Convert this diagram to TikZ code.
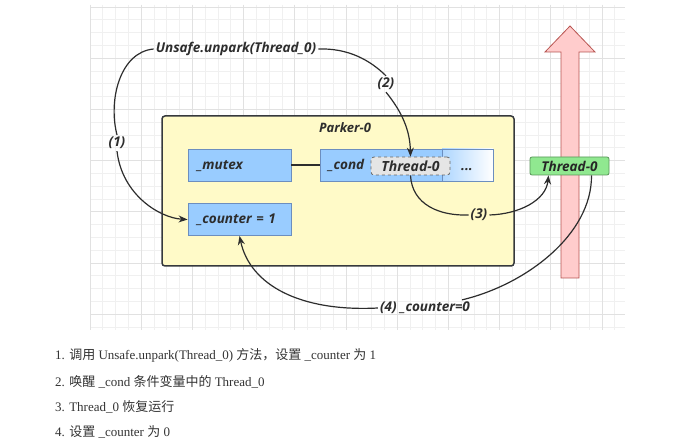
\documentclass[tikz,border=0pt]{standalone}
\usepackage{fontspec}
\setmainfont{Liberation Serif}
\newfontfamily\labfont{Open Sans}
\newfontfamily\cjk{Noto Sans CJK SC}
\usetikzlibrary{arrows.meta,calc}
\definecolor{bluef}{RGB}{153,204,255}
\definecolor{blued}{RGB}{108,142,191}
\definecolor{yelf}{RGB}{255,250,200}
\definecolor{yeld}{RGB}{54,57,61}
\definecolor{grnf}{RGB}{144,232,144}
\definecolor{grnd}{RGB}{90,150,90}
\definecolor{pinkf}{RGB}{255,204,204}
\definecolor{pinkd}{RGB}{184,84,80}
\definecolor{gridmin}{RGB}{240,240,240}
\definecolor{gridmaj}{RGB}{225,225,225}
\definecolor{ink}{RGB}{45,45,45}
\tikzset{
  lbl/.style={font=\labfont\bfseries\itshape\fontsize{13.5}{15}\selectfont, text=ink, inner sep=2pt},
  bluebox/.style={draw=blued, fill=bluef, line width=0.9pt, minimum width=103pt, minimum height=32pt, inner xsep=9pt, text width=85pt, align=left, text height=9pt, text depth=0pt, font=\labfont\bfseries\itshape\fontsize{13.5}{15}\selectfont, text=ink},
  conn/.style={draw=ink, line width=1.2pt},
  arr/.style={conn, -{Stealth[length=9pt,width=7pt]}},
  listtxt/.style={anchor=west, font=\fontsize{13}{15}\selectfont, text=black!80, inner sep=0pt}
}
\begin{document}
\begin{tikzpicture}[x=1pt,y=-1pt]
\useasboundingbox (0,0) rectangle (699,438);
\fill[white] (0,0) rectangle (699,438);
% grid
\begin{scope}
\clip (90,5) rectangle (625,330);
\foreach \i in {0,...,42} {
  \pgfmathsetmacro\xx{90+12.8*\i}
  \draw[gridmin, line width=0.8pt] (\xx,5) -- (\xx,330);
}
\foreach \j in {0,...,25} {
  \pgfmathsetmacro\yy{7+12.8*\j}
  \draw[gridmin, line width=0.8pt] (90,\yy) -- (625,\yy);
}
\foreach \i in {0,4,...,40} {
  \pgfmathsetmacro\xx{90+12.8*\i}
  \draw[gridmaj, line width=0.8pt] (\xx,5) -- (\xx,330);
}
\foreach \j in {0,4,...,24} {
  \pgfmathsetmacro\yy{7+12.8*\j}
  \draw[gridmaj, line width=0.8pt] (90,\yy) -- (625,\yy);
}
\end{scope}
% pink arrow
\draw[fill=pinkf, draw=pinkd, line width=0.8pt, line join=miter]
  (561,278) -- (561,52) -- (545,52) -- (570,26) -- (595,52) -- (579,52) -- (579,278) -- cycle;
% Parker box
\node[draw=yeld, fill=yelf, line width=1.5pt, rounded corners=3pt, minimum width=352pt, minimum height=150pt, inner sep=0pt] (parker) at (338,191) {};
\node[lbl, font=\labfont\bfseries\itshape\fontsize{13}{15}\selectfont] (ptitle) at (345,128) {Parker-0};
% boxes
\node[bluebox] (mutex) at (239.5,165) {\_mutex};
\node[bluebox] (cnt) at (239.5,219.5) {\_counter = 1};
\fill[bluef] (320,149) rectangle (442,181);
\shade[left color=bluef!80!white, right color=white] (442,149) rectangle (493,181);
\node[draw=blued, line width=0.9pt, minimum width=173pt, minimum height=32pt, inner sep=0pt] (cond) at (406.5,165) {};
\draw[blued, line width=0.9pt] (442,149) -- (442,181);
\node[font=\labfont\bfseries\itshape\fontsize{13.5}{15}\selectfont, text=ink, inner sep=0pt, text height=9pt, text depth=0pt, anchor=west] (condt) at (328,165) {\_cond};
\node[draw=gray!80!black, dashed, fill=black!10, rounded corners=3pt, line width=0.8pt, minimum width=79pt, minimum height=18pt, inner sep=0pt, font=\labfont\bfseries\itshape\fontsize{14}{16}\selectfont, text=ink] (th) at (410.5,166) {Thread-0};
\node[lbl] (dots) at (467,170) {...};
\draw[conn] (mutex.east) -- (cond.west);
% green
\node[draw=grnd, fill=grnf, rounded corners=2pt, line width=0.8pt, minimum width=79pt, minimum height=18pt, inner sep=0pt, font=\labfont\bfseries\itshape\fontsize{13.5}{15}\selectfont, text=black!85] (g) at (569.5,166) {Thread-0};
% labels
\node[lbl] (unp) at (236,49) {Unsafe.unpark(Thread\_0)};
\node[lbl] (l1) at (117,143) {(1)};
\node[lbl] (l2) at (386,84) {(2)};
\node[lbl] (l3) at (479,215) {(3)};
\node[lbl] (l4) at (425,308) {(4) \_counter=0};
% connectors
\draw[conn] (unp.west) .. controls (120,52) and (108,100) .. (l1.north);
\draw[arr] (l1.south) .. controls (122,195) and (160,218) .. (cnt.west);
\draw[conn] (unp.east) .. controls (348,48) and (370,60) .. (l2.north);
\draw[arr] (l2.south) .. controls (402,112) and (410,130) .. (th.north);
\draw[conn] (th.south) .. controls (412,205) and (440,216) .. (l3.west);
\draw[arr] (l3.east) .. controls (520,214) and (546,200) .. ([xshift=-21pt]g.south);
\draw[conn] ([xshift=22pt]g.south) .. controls (592,235) and (525,285) .. ([xshift=-10pt]l4.north east);
\draw[arr] (l4.west) .. controls (300,312) and (250,285) .. (cnt.south);
% list
\node[listtxt] (t1) at (55,355) {1. {\cjk 调用} Unsafe.unpark(Thread\_0) {\cjk 方法，设置} \_counter {\cjk 为} 1};
\node[listtxt] (t2) at (55,381.5) {2. {\cjk 唤醒} \_cond {\cjk 条件变量中的} Thread\_0};
\node[listtxt] (t3) at (55,407) {3. Thread\_0 {\cjk 恢复运行}};
\node[listtxt] (t4) at (55,432) {4. {\cjk 设置} \_counter {\cjk 为} 0};
\end{tikzpicture}
\end{document}
